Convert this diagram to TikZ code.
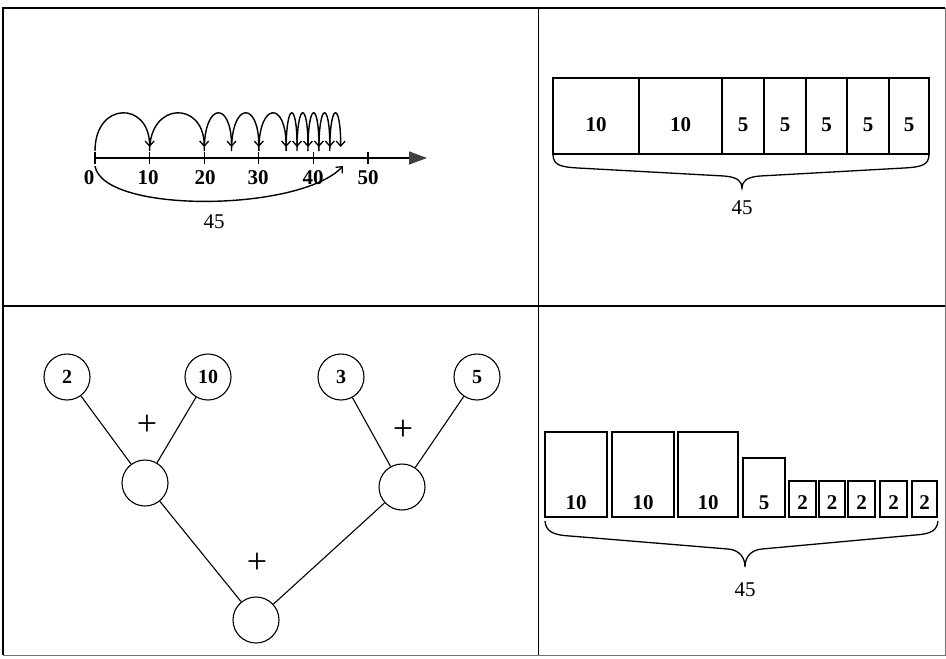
\documentclass[tikz,border=0pt]{standalone}
\usepackage{fontspec}
\setmainfont{Liberation Serif}
\usetikzlibrary{arrows.meta,calc}
\begin{document}
\begin{tikzpicture}[x=1pt,y=-1pt,
  frame/.style={line width=1.3pt, black},
  faint/.style={line width=0.9pt, black!55},
  lbl/.style={inner sep=0pt, font=\fontsize{21}{23}\selectfont\bfseries},
  lblr/.style={inner sep=0pt, font=\fontsize{21}{23}\selectfont},
  plus/.style={inner sep=0pt, font=\fontsize{36}{38}\selectfont},
  cell/.style={draw, line width=1.1pt},
  jump/.style={line width=1.4pt, -{Straight Barb[length=5pt,width=9pt,line width=1.3pt]}},
  circ/.style={circle, draw, line width=1.1pt, minimum size=46pt, inner sep=0pt, font=\fontsize{20}{22}\selectfont\bfseries},
  edge/.style={line width=1.1pt},
  brace/.style={line width=1.3pt}
]
\useasboundingbox (0,0) rectangle (946,659);
% frame
\draw[frame] (3,655) -- (3,8) -- (945,8);
\draw[faint] (945,8) -- (945,655) -- (3,655);
\draw[frame] (538.5,8) -- (538.5,655);
\draw[frame] (3,306) -- (945,306);

% ---------- number line ----------
\coordinate (axS) at (95,158);
\coordinate (axE) at (427,158);
\draw[line width=1.5pt, -{Triangle[length=18pt,width=13pt,fill=black!75,color=black!75]}] (axS) -- (axE);
\foreach \v in {0,10,20,30,40,50}{
  \coordinate (t\v) at ({95+5.46*\v},158);
  \draw[line width=1.3pt] ($(t\v)+(0,-6)$) -- ($(t\v)+(0,6)$);
}
\node[lbl] (n0) at (89,178) {0};
\node[lbl] (n10) at (148,178) {10};
\node[lbl] (n20) at (205,178) {20};
\node[lbl] (n30) at (258,178) {30};
\node[lbl] (n40) at (313,178) {40};
\node[lbl] (n50) at (368,178) {50};
\foreach \a/\b in {0/10,10/20,20/25,25/30,30/35,35/37,37/39,39/41,41/43,43/45}{
  \coordinate (ja\a) at ({95+5.46*\a},151);
  \coordinate (jb\b) at ({95+5.46*\b},147);
  \draw[jump] (ja\a) .. controls ({95+5.46*\a},101) and ({95+5.46*\b},101) .. (jb\b);
}
\coordinate (bigS) at (95,166);
\coordinate (bigE) at (343,166);
\draw[line width=1.4pt, -{Straight Barb[length=5pt,width=9pt,line width=1.3pt]}] (bigS) .. controls (103,214) and (300,212) .. (bigE);
\node[lblr] (n45a) at (214,222) {45};

% ---------- top right bar ----------
\foreach \l/\r/\t [count=\i] in {553/639/10,639/722/10,722/764/5,764/806/5,806/847/5,847/889/5,889/929/5}{
  \draw[cell] (\l,78) rectangle (\r,154);
  \node[lbl] (bar\i) at ({(\l+\r)/2},125) {\t};
}
\draw[brace] (553,154) .. controls (553,165) and (560,167) .. (578,168)
  -- (724,176) .. controls (737,177) and (742,181) .. (742,188)
  .. controls (742,181) and (747,177) .. (760,176)
  -- (904,168) .. controls (922,167) and (929,165) .. (929,154);
\node[lblr] (n45b) at (742,208) {45};

% ---------- tree ----------
\node[circ] (c2) at (67,377) {2};
\node[circ] (c10) at (208,377) {10};
\node[circ] (c3) at (341,377) {3};
\node[circ] (c5) at (477,377) {5};
\node[circ] (m1) at (145,483) {};
\node[circ] (m2) at (402,487) {};
\node[circ] (rt) at (256,620) {};
\draw[edge] (c2) -- (m1);
\draw[edge] (c10) -- (m1);
\draw[edge] (c3) -- (m2);
\draw[edge] (c5) -- (m2);
\draw[edge] (m1) -- (rt);
\draw[edge] (m2) -- (rt);
\node[plus] (p1) at (147,425) {+};
\node[plus] (p2) at (403,430) {+};
\node[plus] (p3) at (257,563) {+};

% ---------- bottom right bars ----------
\foreach \l/\r/\top/\t [count=\i] in {545/607/432/10,612/674/432/10,678/738/432/10,743/785/458/5,789/816/481/2,819/845/481/2,848/875/481/2,880/907/481/2,912/937/481/2}{
  \draw[cell] (\l,\top) rectangle (\r,517);
  \node[lbl] (bb\i) at ({(\l+\r)/2},503) {\t};
}
\draw[brace] (545,521) .. controls (546,531) and (552,535) .. (570,536)
  -- (728,549) .. controls (740,550) and (745,558) .. (745,567)
  .. controls (745,558) and (750,550) .. (762,549)
  -- (915,535) .. controls (932,534) and (937,530) .. (938,521);
\node[lblr] (n45c) at (745,590) {45};
\end{tikzpicture}
\end{document}
